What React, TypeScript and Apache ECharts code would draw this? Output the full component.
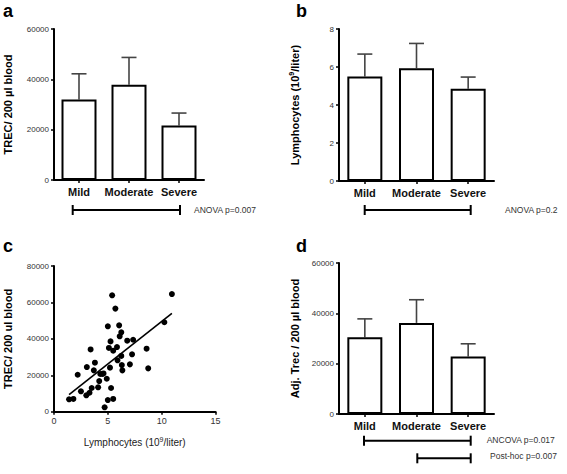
import React, { useEffect, useRef } from "react";
import * as echarts from "echarts";

const categories = ["Mild", "Moderate", "Severe"];

const trecMeans = [32000, 37800, 21700];
const trecErrors = [10200, 10900, 4900];

const lymphMeans = [5.5, 5.94, 4.85];
const lymphErrors = [1.18, 1.3, 0.62];

const adjMeans = [30500, 36200, 22800];
const adjErrors = [7300, 9200, 5100];

const scatterLymph = [
  1.4, 1.8, 2.2, 2.5, 3.0, 3.05, 3.3, 3.4, 3.5, 3.7, 3.8, 4.1, 4.2, 4.3, 4.5,
  4.6, 4.7, 4.9, 5.0, 5.0, 5.1, 5.2, 5.25, 5.3, 5.4, 5.5, 5.5, 5.7, 5.85, 5.9,
  6.05, 6.1, 6.25, 6.25, 6.3, 6.35, 6.8, 7.05, 7.25, 7.35, 8.6, 8.75, 10.25, 10.95,
];
const scatterTrec = [
  6800, 7000, 20300, 11200, 9000, 24500, 10400, 34200, 13000, 22700, 26900,
  13400, 16800, 20700, 20700, 21000, 2400, 18100, 6400, 46900, 35000, 24200,
  38600, 13000, 63900, 7000, 33500, 56600, 35500, 28200, 47400, 41400, 43600,
  30600, 25600, 22700, 39000, 26000, 31500, 39500, 34600, 23800, 49100, 64600,
];

const FONT = "'Liberation Sans', Arial, Helvetica, sans-serif";

function fitLine(xs: number[], ys: number[]) {
  const n = xs.length;
  const mx = xs.reduce((a, b) => a + b, 0) / n;
  const my = ys.reduce((a, b) => a + b, 0) / n;
  let sxy = 0;
  let sxx = 0;
  for (let i = 0; i < n; i++) {
    sxy += (xs[i] - mx) * (ys[i] - my);
    sxx += (xs[i] - mx) * (xs[i] - mx);
  }
  const slope = sxy / sxx;
  const intercept = my - slope * mx;
  const x0 = Math.min(...xs);
  const x1 = Math.max(...xs);
  return [
    [x0, intercept + slope * x0],
    [x1, intercept + slope * x1],
  ];
}

const supRich = {
  sup: { fontSize: 7, verticalAlign: "top", lineHeight: 14, padding: [0, 0, 0, 0] },
};

const axisLine = { show: true, lineStyle: { color: "#000", width: 2 } };
const axisTick = { show: true, length: 3, lineStyle: { color: "#000", width: 1.5 } };
const plain = (v: number) => String(v);
const tickLabel = { fontSize: 8, color: "#333", fontFamily: FONT, margin: 5, formatter: plain };
const yName = {
  fontSize: 11,
  fontWeight: "bold",
  color: "#000",
  fontFamily: FONT,
  lineHeight: 14,
  rich: { sup: { ...supRich.sup, fontWeight: "bold", fontFamily: FONT, color: "#000" } },
};

function catAxis(idx: number) {
  return {
    type: "category",
    gridIndex: idx,
    data: categories,
    axisLine,
    axisTick: { ...axisTick, alignWithLabel: true },
    axisLabel: { fontSize: 11, fontWeight: "bold", color: "#111", fontFamily: FONT, margin: 6, interval: 0 },
    splitLine: { show: false },
  };
}

function valAxis(idx: number, max: number, interval: number, name: string, gap: number) {
  return {
    type: "value",
    gridIndex: idx,
    min: 0,
    max,
    interval,
    name,
    nameLocation: "middle",
    nameGap: gap,
    nameTextStyle: yName,
    axisLine,
    axisTick,
    axisLabel: tickLabel,
    splitLine: { show: false },
  };
}

function barSeries(idx: number, means: number[]) {
  return {
    type: "bar",
    xAxisIndex: idx,
    yAxisIndex: idx,
    data: means,
    barWidth: 35,
    itemStyle: { color: "#fff", borderColor: "#000", borderWidth: 2 },
    z: 3,
  };
}

function errSeries(idx: number, means: number[], errs: number[]) {
  return {
    type: "custom",
    xAxisIndex: idx,
    yAxisIndex: idx,
    data: means.map((m, k) => [k, m, m + errs[k]]),
    z: 2,
    renderItem: (_params: any, api: any) => {
      const base = api.coord([api.value(0), api.value(1)]);
      const top = api.coord([api.value(0), api.value(2)]);
      const hw = 7.5;
      const style = { stroke: "#444", lineWidth: 1.6 };
      return {
        type: "group",
        children: [
          { type: "line", shape: { x1: base[0], y1: base[1], x2: top[0], y2: top[1] }, style },
          { type: "line", shape: { x1: top[0] - hw, y1: top[1], x2: top[0] + hw, y2: top[1] }, style },
        ],
      };
    },
  };
}

function bracket(x1: number, x2: number, y: number) {
  const s = { stroke: "#000", lineWidth: 2 };
  return [
    { type: "line", shape: { x1, y1: y, x2, y2: y }, style: s },
    { type: "line", shape: { x1, y1: y - 5, x2: x1, y2: y + 5 }, style: s },
    { type: "line", shape: { x1: x2, y1: y - 5, x2, y2: y + 5 }, style: s },
  ];
}

function note(text: string, x: number, y: number) {
  return {
    type: "text",
    x,
    y,
    style: { text, fontSize: 8.5, fill: "#333", fontFamily: FONT, align: "left", verticalAlign: "middle" },
  };
}

function panelLetter(text: string, x: number, y: number) {
  return {
    type: "text",
    x,
    y,
    style: { text, fontSize: 18, fontWeight: "bold", fill: "#000", fontFamily: FONT, align: "left", verticalAlign: "middle" },
  };
}

export default function App() {
  const ref = useRef<HTMLDivElement>(null);
  useEffect(() => {
    if (!ref.current) return;
    const chart = echarts.init(ref.current, undefined, { renderer: "svg" });
    const line = fitLine(scatterLymph, scatterTrec);
    chart.setOption({
      animation: false,
      backgroundColor: "#fff",
      grid: [
        { left: 48, top: 29, width: 156, height: 151 },
        { left: 339, top: 29, width: 155, height: 152 },
        { left: 48, top: 266, width: 167.5, height: 145.7 },
        { left: 339, top: 263, width: 155, height: 151 },
      ],
      xAxis: [
        catAxis(0),
        catAxis(1),
        {
          type: "value",
          gridIndex: 2,
          min: 0,
          max: 15,
          interval: 5,
          name: "Lymphocytes (10{sup|9}/liter)",
          nameLocation: "middle",
          nameGap: 24,
          nameTextStyle: {
            fontSize: 10,
            color: "#222",
            fontFamily: FONT,
            lineHeight: 13,
            rich: { sup: { fontSize: 7, verticalAlign: "top", lineHeight: 13, color: "#222", fontFamily: FONT } },
          },
          axisLine,
          axisTick,
          axisLabel: { ...tickLabel, fontSize: 9, margin: 5 },
          splitLine: { show: false },
        },
        catAxis(3),
      ],
      yAxis: [
        valAxis(0, 60000, 20000, "TREC/ 200 µl blood", 39),
        valAxis(1, 8, 2, "Lymphocytes (10{sup|9}/liter)", 37),
        valAxis(2, 80000, 20000, "TREC/ 200 ul blood", 39),
        valAxis(3, 60000, 20000, "Adj. Trec / 200 µl blood", 37),
      ],
      series: [
        errSeries(0, trecMeans, trecErrors),
        barSeries(0, trecMeans),
        errSeries(1, lymphMeans, lymphErrors),
        barSeries(1, lymphMeans),
        {
          type: "scatter",
          xAxisIndex: 2,
          yAxisIndex: 2,
          data: scatterLymph.map((x, i) => [x, scatterTrec[i]]),
          symbolSize: 6,
          itemStyle: { color: "#000", opacity: 1 },
        },
        {
          type: "line",
          xAxisIndex: 2,
          yAxisIndex: 2,
          data: line,
          symbol: "none",
          lineStyle: { color: "#000", width: 1.6 },
        },
        errSeries(3, adjMeans, adjErrors),
        barSeries(3, adjMeans),
      ],
      graphic: [
        panelLetter("a", 3, 11),
        panelLetter("b", 296, 11),
        panelLetter("c", 3, 246),
        panelLetter("d", 296, 246),
        ...bracket(72.7, 180, 210),
        note("ANOVA p=0.007", 194, 210),
        ...bracket(364.7, 470.7, 210),
        note("ANOVA p=0.2", 505, 210),
        ...bracket(364, 470.7, 440.7),
        note("ANCOVA p=0.017", 486.7, 440),
        ...bracket(417.3, 470.7, 458.3),
        note("Post-hoc p=0.007", 490, 456),
      ],
    });
    return () => chart.dispose();
  }, []);
  return (
    <div
      ref={ref}
      style={{ position: "fixed", left: 0, top: 0, width: 567, height: 474, background: "#fff" }}
    />
  );
}
